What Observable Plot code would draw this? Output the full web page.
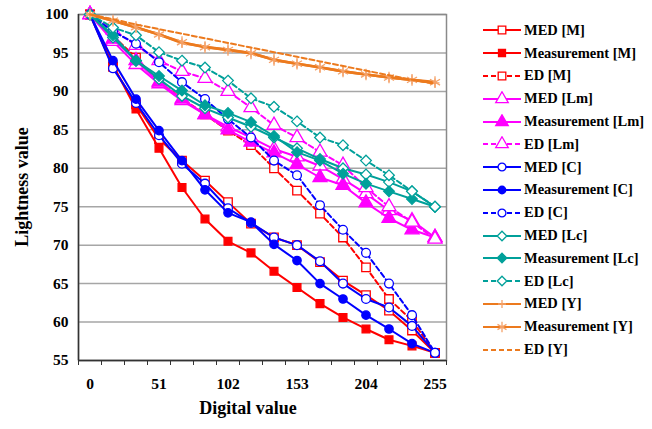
<!DOCTYPE html>
<html><head><meta charset="utf-8">
<script src="https://cdn.jsdelivr.net/npm/d3@7"></script>
<script src="https://cdn.jsdelivr.net/npm/@observablehq/plot@0.6"></script>
<style>
body{margin:0;background:#fff;}
#wrap{position:relative;width:652px;height:429px;font-family:"Times New Roman","Liberation Serif","DejaVu Serif",serif;}
#legend{position:absolute;left:482px;top:19px;}
.row{display:flex;align-items:center;height:22.8px;font-weight:bold;font-size:14.5px;color:#000;white-space:nowrap;}
.row svg{margin-right:2px;}
#xlabel{position:absolute;left:248px;top:398px;transform:translateX(-50%);font-weight:bold;font-size:18px;}
#ylabel{position:absolute;left:22px;top:187px;transform:translate(-50%,-50%) rotate(-90deg);font-weight:bold;font-size:18px;white-space:nowrap;}
</style></head>
<body><div id="wrap"><div id="chart"></div><div id="legend"></div><div id="xlabel">Digital value</div><div id="ylabel">Lightness value</div></div>
<script>
const digitalValues = [0,17,34,51,68,85,102,119,136,153,170,187,204,221,238,255];
const xTickLabels = [0,51,102,153,204,255];
const yTickLabels = [55,60,65,70,75,80,85,90,95,100];
const seriesNames = ["MED [M]","Measurement [M]","ED [M]","MED [Lm]","Measurement [Lm]","ED [Lm]","MED [C]","Measurement [C]","ED [C]","MED [Lc]","Measurement [Lc]","ED [Lc]","MED [Y]","Measurement [Y]","ED [Y]"];

const medM   = [100,93.2,88.3,83.8,81.0,78.4,75.6,72.8,71.0,70.0,67.8,65.4,63.5,61.5,58.9,56.0];
const measM  = [100,93.4,87.7,82.6,77.5,73.4,70.5,69.0,66.6,64.5,62.4,60.6,59.1,57.7,56.9,56.0];
const edM    = [100,97.2,94.4,91.2,89.1,87.0,84.9,83.0,80.0,77.1,74.1,71.0,67.1,63.0,60.2,56.0];
const medLm  = [100,96.5,93.5,91.0,88.8,87.0,85.4,84.0,82.5,81.5,80.3,78.6,76.7,74.5,73.2,71.0];
const measLm = [100,96.8,94.0,91.2,89.0,87.0,85.0,83.4,82.0,80.5,78.8,77.8,75.5,73.5,72.0,71.0];
const edLm   = [100,98.0,96.0,94.0,92.6,91.7,90.0,87.9,85.6,84.0,82.1,80.4,77.5,75.0,73.0,70.8];
const medC   = [100,93.0,88.5,84.3,80.6,78.0,74.8,72.9,71.0,70.0,67.9,65.0,63.0,61.9,59.5,56.0];
const measC  = [100,94.0,89.0,84.9,81.0,77.2,74.2,73.0,70.1,68.0,65.0,63.0,60.9,59.1,57.2,56.0];
const edC    = [100,97.8,96.2,93.8,91.2,89.0,86.4,84.0,81.0,79.1,75.2,72.0,69.0,65.0,60.9,56.0];
const medLc  = [100,97.0,94.0,91.6,89.4,87.8,86.6,85.4,84.0,82.6,81.2,80.0,79.2,78.2,77.0,75.0];
const measLc = [100,97.3,94.0,92.0,90.1,88.2,87.2,86.0,84.2,82.1,81.0,79.3,78.0,77.0,76.0,75.0];
const edLc   = [100,98.3,97.3,95.1,94.0,93.1,91.4,89.1,88.0,86.1,84.0,83.0,81.0,79.1,77.0,75.0];
const medY   = [100,99.2,98.3,97.4,96.3,95.8,95.4,95.0,94.1,93.6,93.1,92.6,92.2,91.8,91.5,91.1];
const measY  = [100,99.2,98.35,97.4,96.4,95.75,95.4,94.95,94.1,93.6,93.15,92.6,92.2,91.8,91.5,91.2];
const edY    = [100,99.4,98.7,98.1,97.5,96.9,96.3,95.7,95.1,94.5,93.9,93.3,92.7,92.1,91.5,91.0];

const seriesValues = [medM,measM,edM,medLm,measLm,edLm,medC,measC,edC,medLc,measLc,edLc,medY,measY,edY];

const RED="#ff0000", MAG="#ff00ff", BLUE="#0000ff", TEAL="#00a09a", ORANGE="#ec7a1e", ORANGE_LIGHT="#f4a26a";
const styles = [
  {color:RED, dash:null, symbol:"square", filled:false, r:4.8},
  {color:RED, dash:null, symbol:"square", filled:true, r:4.4},
  {color:RED, dash:"5,3", symbol:"square", filled:false, r:4.8},
  {color:MAG, dash:null, symbol:"triangle", filled:false, r:5.2},
  {color:MAG, dash:null, symbol:"triangle", filled:true, r:5.2},
  {color:MAG, dash:"5,3", symbol:"triangle", filled:false, r:5.2},
  {color:BLUE, dash:null, symbol:"circle", filled:false, r:4.4},
  {color:BLUE, dash:null, symbol:"circle", filled:true, r:4.2},
  {color:BLUE, dash:"5,3", symbol:"circle", filled:false, r:4.4},
  {color:TEAL, dash:null, symbol:"diamond2", filled:false, r:4.8},
  {color:TEAL, dash:null, symbol:"diamond2", filled:true, r:4.8},
  {color:TEAL, dash:"5,3", symbol:"diamond2", filled:false, r:4.8},
  {color:ORANGE, dash:null, symbol:"plus", filled:false, r:3, mstroke:ORANGE_LIGHT, width:2.6},
  {color:ORANGE, dash:null, symbol:"asterisk", filled:false, r:5.5, mstroke:ORANGE_LIGHT, width:2.6},
  {color:ORANGE, dash:"5,3", symbol:null, filled:false, r:0}
];

const rows = [];
seriesNames.forEach((name, s) => digitalValues.forEach((x, i) => rows.push({series: name, s, x, y: seriesValues[s][i]})));

const step = digitalValues[1] - digitalValues[0];
const boundaries = d3.range(digitalValues.length + 1).map(k => digitalValues[0] - step/2 + k*step);

const marks = [
  Plot.gridY(yTickLabels, {stroke:"#a6a6a6", strokeOpacity:1, strokeWidth:1.5}),
  Plot.frame({stroke:"#8a8a8a", strokeWidth:1.5}),
  Plot.ruleX([boundaries[0]], {stroke:"#333", strokeWidth:1.5}),
  Plot.ruleY([yTickLabels[0]], {stroke:"#333", strokeWidth:1.5}),
  Plot.axisY(yTickLabels, {tickSize:0, tickPadding:10, fontSize:15.5, fontWeight:"bold", label:null}),
  Plot.axisX(boundaries, {tickSize:5, tickFormat:()=>"", label:null, stroke:"#333"}),
  Plot.axisX(xTickLabels, {tickSize:0, tickPadding:17, fontSize:15.5, fontWeight:"bold", label:null})
];
const openFill = st => st.filled ? st.color : (st.symbol==="plus"||st.symbol==="asterisk" ? "none" : "white");
seriesNames.forEach((name, s) => {
  const st = styles[s];
  const data = rows.filter(d => d.s === s);
  marks.push(Plot.line(data, {x:"x", y:"y", stroke:st.color, strokeWidth:st.width || 2, strokeDasharray:st.dash || undefined}));
  if (st.symbol) {
    marks.push(Plot.dot(data, {x:"x", y:"y", symbol:st.symbol, r:st.r,
      fill: openFill(st), stroke: st.mstroke || st.color, strokeWidth: 1.3}));
  }
});

const chart = Plot.plot({
  width: 652, height: 429,
  marginLeft: 78, marginRight: 206, marginTop: 14, marginBottom: 69,
  style: {fontFamily: '"Times New Roman","Liberation Serif","DejaVu Serif",serif', color:"#000", background:"#fff"},
  x: {domain: [boundaries[0], boundaries[boundaries.length-1]]},
  y: {domain: [yTickLabels[0], yTickLabels[yTickLabels.length-1]]},
  marks
});
document.getElementById("chart").appendChild(chart);

// Legend
const legend = document.getElementById("legend");
const symMap = {square:d3.symbolSquare, triangle:d3.symbolTriangle, circle:d3.symbolCircle, diamond2:d3.symbolDiamond2, plus:d3.symbolPlus, asterisk:d3.symbolAsterisk};
seriesNames.forEach((name, s) => {
  const st = styles[s];
  const row = document.createElement("div");
  row.className = "row";
  const svg = d3.create("svg").attr("width", 40).attr("height", 16);
  svg.append("line").attr("x1",1).attr("x2",39).attr("y1",8).attr("y2",8)
    .attr("stroke", st.color).attr("stroke-width", 2).attr("stroke-dasharray", st.dash);
  if (st.symbol) {
    const sz = Math.PI * st.r * st.r * 0.8;
    svg.append("path").attr("d", d3.symbol(symMap[st.symbol], sz)()).attr("transform","translate(20,8)")
      .attr("fill", openFill(st))
      .attr("stroke", st.mstroke || st.color).attr("stroke-width", 1.3);
  }
  row.appendChild(svg.node());
  const span = document.createElement("span");
  span.textContent = name;
  row.appendChild(span);
  legend.appendChild(row);
});
</script>
</body></html>
